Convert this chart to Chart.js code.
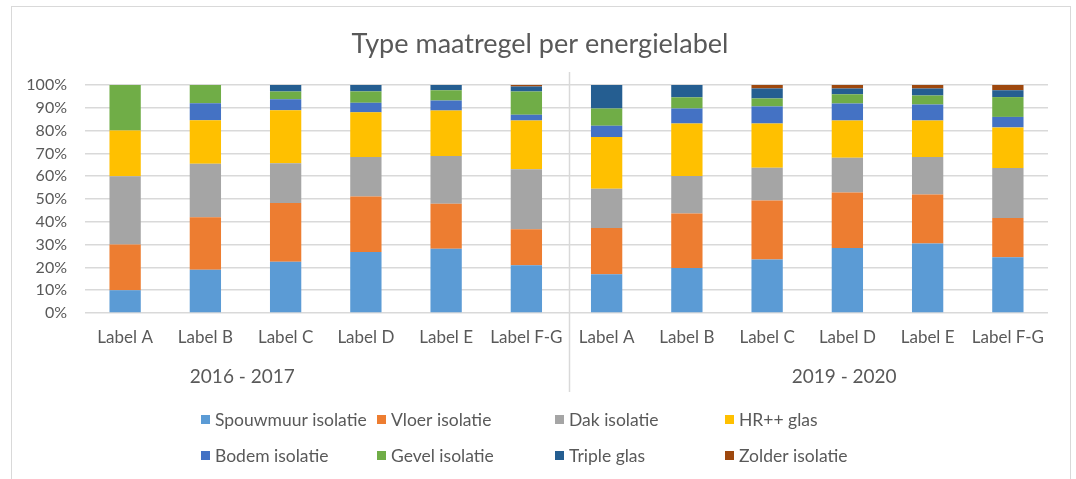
<!DOCTYPE html>
<html>
<head>
<meta charset="utf-8">
<script src="https://cdn.jsdelivr.net/npm/chart.js@4"></script>
<style>
  html, body { margin: 0; padding: 0; background: #fff; overflow: hidden; }
  #wrap { position: relative; width: 1076px; height: 479px; }
  #frame { position: absolute; left: 11px; top: 6px; width: 1058px; height: 490px; border: 1px solid #d9d9d9; pointer-events: none; }
  canvas { position: absolute; left: 0; top: 0; }
</style>
</head>
<body>
<div id="wrap">
  <canvas id="myChart" width="1076" height="479"></canvas>
  <div id="frame"></div>
</div>
<script>
// categories (two periods, six labels each)
const labels = ["Label A", "Label B", "Label C", "Label D", "Label E", "Label F-G",
                "Label A", "Label B", "Label C", "Label D", "Label E", "Label F-G"]
const groups = ["2016 - 2017", "2019 - 2020"]
const yTicks = [0, 10, 20, 30, 40, 50, 60, 70, 80, 90, 100]
const chartTitle = 'Type maatregel per energielabel'

// shares in % per measure
const spouwmuur = [10, 19, 22.5, 26.7, 28.2, 20.9,   17, 19.7, 23.5, 28.5, 30.5, 24.4]
const vloer     = [20, 23, 25.7, 24.4, 19.7, 15.8,   20.3, 23.9, 25.8, 24.4, 21.5, 17.3]
const dak       = [30, 23.5, 17.5, 17.3, 21, 26.4,   17.2, 16.5, 14.4, 15.2, 16.4, 21.9]
const hrglas    = [20, 19, 23.2, 19.6, 19.9, 21.3,   22.7, 23, 19.4, 16.3, 16, 17.8]
const bodem     = [0, 7.5, 4.8, 4.2, 4.4, 2.5,       4.9, 6.6, 7.5, 7.5, 7.1, 4.6]
const gevel     = [20, 8, 3.5, 5, 4.5, 10.3,         7.6, 4.9, 3.5, 4, 3.9, 8.7]
const triple    = [0, 0, 2.8, 2.8, 2.3, 2.1,         10.3, 5.4, 4.4, 2.6, 3.1, 3.0]
const zolder    = [0, 0, 0, 0, 0, 0.7,               0, 0, 1.5, 1.5, 1.5, 2.3]

const seriesNames = ["Spouwmuur isolatie", "Vloer isolatie", "Dak isolatie", "HR++ glas",
                     "Bodem isolatie", "Gevel isolatie", "Triple glas", "Zolder isolatie"]
const seriesData = [spouwmuur, vloer, dak, hrglas, bodem, gevel, triple, zolder]
const colors = ['#5B9BD5', '#ED7D31', '#A5A5A5', '#FFC000', '#4472C4', '#70AD47', '#255E91', '#9E480E']

const FONT = "Lato, 'Open Sans', sans-serif"
const TEXT = '#595959'

// title centred on the whole frame, group labels + divider between the periods
const groupPlugin = {
  id: 'groupLabels',
  afterDraw(chart) {
    const ctx = chart.ctx
    const x = chart.scales.x
    const area = chart.chartArea
    ctx.save()
    ctx.fillStyle = TEXT
    ctx.textAlign = 'center'
    ctx.textBaseline = 'middle'
    ctx.font = "27px " + FONT
    ctx.fillText(chartTitle, 540, 44)
    // divider
    const sep = (x.getPixelForValue(5) + x.getPixelForValue(6)) / 2 + 3
    ctx.strokeStyle = '#d9d9d9'
    ctx.lineWidth = 1.5
    ctx.beginPath()
    ctx.moveTo(sep, area.top - 13)
    ctx.lineTo(sep, 392)
    ctx.stroke()
    // period labels
    ctx.font = "19px " + FONT
    ctx.fillText(groups[0], x.getPixelForValue(1.46), 377)
    ctx.fillText(groups[1], x.getPixelForValue(8.96), 377)
    ctx.restore()
  }
}

// excel style legend: 4 fixed columns, 2 rows
const legendPlugin = {
  id: 'gridLegend',
  afterDraw(chart) {
    const ctx = chart.ctx
    const colX = [201, 377, 555, 725]
    const rowY = [420, 456]
    ctx.save()
    ctx.font = "17.5px " + FONT
    ctx.textBaseline = 'middle'
    ctx.textAlign = 'left'
    chart.data.datasets.forEach((ds, i) => {
      const cx = colX[i % 4]
      const cy = rowY[Math.floor(i / 4)]
      ctx.fillStyle = ds.backgroundColor
      ctx.fillRect(cx, cy - 5, 9, 9)
      ctx.fillStyle = TEXT
      ctx.fillText(ds.label, cx + 14, cy)
    })
    ctx.restore()
  }
}

let createChart = () => {
  const ctx = document.getElementById("myChart")
  const datasets = seriesData.map((d, i) => ({
    label: seriesNames[i],
    data: d,
    backgroundColor: colors[i],
    borderWidth: 0,
    barPercentage: 0.39,
    categoryPercentage: 1
  }))

  new Chart(ctx, {
    type: 'bar',
    data: { labels: labels, datasets: datasets },
    plugins: [groupPlugin, legendPlugin],
    options: {
      responsive: false,
      animation: false,
      layout: { padding: { left: 0, right: 28, top: 85, bottom: 0 } },
      plugins: {
        legend: { display: false },
        tooltip: { enabled: false },
        title: { display: false }
      },
      scales: {
        x: {
          stacked: true,
          grid: { display: false, drawTicks: false },
          border: { display: false },
          ticks: { color: TEXT, font: { family: FONT, size: 17 }, padding: 14, maxRotation: 0, autoSkip: false },
          afterFit: scale => { scale.height = 166 }
        },
        y: {
          stacked: true,
          min: 0,
          max: 100,
          afterBuildTicks: scale => { scale.ticks = yTicks.map(v => ({ value: v })) },
          grid: { color: '#d9d9d9', lineWidth: 1.5, drawTicks: false },
          border: { display: false },
          ticks: { color: TEXT, font: { family: FONT, size: 16 }, padding: 18, callback: v => v + '%' },
          afterFit: scale => { scale.width = 85 }
        }
      }
    }
  })
}

createChart()
</script>
</body>
</html>
